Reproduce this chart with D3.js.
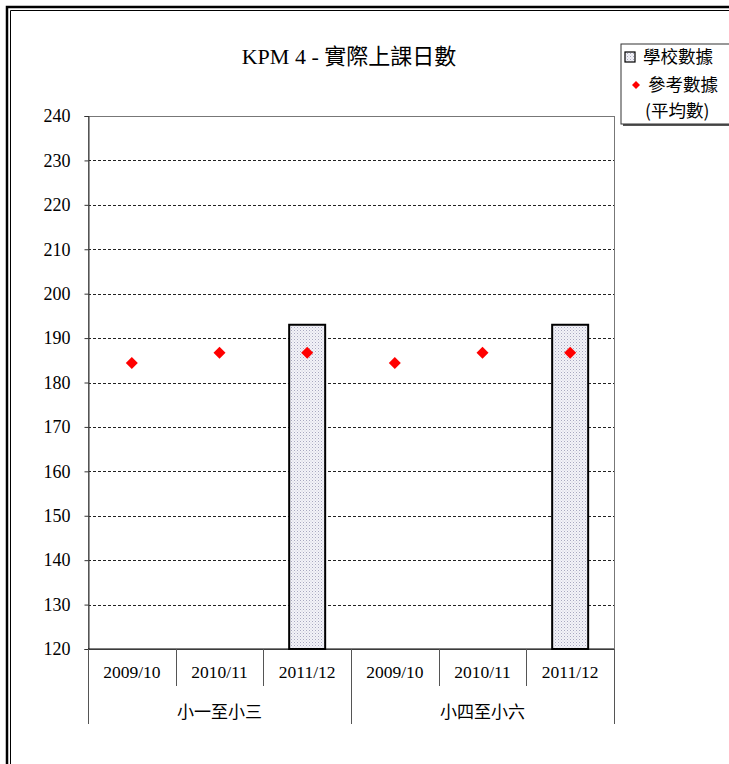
<!DOCTYPE html>
<html>
<head>
<meta charset="utf-8">
<script src="https://cdn.jsdelivr.net/npm/d3@7"></script>
<style>
  body { margin: 0; background: #fff; }
  text { font-family: "Liberation Serif", "Noto Sans CJK TC", serif; fill: #000; }
</style>
</head>
<body>
<div id="chart"></div>
<script>
// data
var years = ['2009/10', '2010/11', '2011/12'];
var groups = ['小一至小三', '小四至小六'];
var schoolData = [0, 0, 193, 0, 0, 193];
var refData = [184.4, 186.7, 186.7, 184.4, 186.7, 186.7];
var yTicks = [120, 130, 140, 150, 160, 170, 180, 190, 200, 210, 220, 230, 240];

var width = 729, height = 764;
var plotL = 88, plotR = 614, plotT = 116, plotB = 649;

var cats = [];
groups.forEach(function (g) {
    years.forEach(function (yr) { cats.push(g + '|' + yr); });
});

var svg = d3.select('#chart')
    .append('svg')
    .attr('width', width)
    .attr('height', height);

// pattern for the school bars
var pat = svg.append('defs').append('pattern')
    .attr('id', 'dots')
    .attr('width', 3).attr('height', 3)
    .attr('patternUnits', 'userSpaceOnUse');
pat.append('rect').attr('width', 3).attr('height', 3).attr('fill', '#f3f3f8');
pat.append('rect').attr('x', 0).attr('y', 0).attr('width', 1).attr('height', 1).attr('fill', '#a8a8c0');
pat.append('rect').attr('x', 1.5).attr('y', 1.5).attr('width', 1).attr('height', 1).attr('fill', '#c8c8d8');

// outer frame (double line, top + left)
svg.append('path').attr('d', 'M7,' + height + 'V7H' + width)
    .attr('fill', 'none').attr('stroke', '#000').attr('stroke-width', 2.5);
svg.append('path').attr('d', 'M10.5,' + height + 'V10.5H' + width)
    .attr('fill', 'none').attr('stroke', '#000').attr('stroke-width', 1);

var x = d3.scaleBand().domain(cats).range([plotL, plotR]).paddingInner(0).paddingOuter(0);
var y = d3.scaleLinear().domain([120, 240]).range([plotB, plotT]).clamp(true);

// title
svg.append('text')
    .attr('x', 349).attr('y', 64)
    .attr('text-anchor', 'middle')
    .style('font-size', '22px')
    .text('KPM 4 - 實際上課日數');

// gridlines
svg.append('g')
    .selectAll('line')
    .data(yTicks.slice(1, -1))
    .join('line')
    .attr('x1', plotL).attr('x2', plotR)
    .attr('y1', function (d) { return Math.round(y(d)) + 0.5; })
    .attr('y2', function (d) { return Math.round(y(d)) + 0.5; })
    .attr('stroke', '#222')
    .attr('stroke-width', 1)
    .attr('stroke-dasharray', '3,2');

// plot border
svg.append('rect')
    .attr('x', plotL + 0.5).attr('y', plotT + 0.5)
    .attr('width', plotR - plotL).attr('height', plotB - plotT)
    .attr('fill', 'none').attr('stroke', '#777').attr('stroke-width', 1);

// y axis
var yAxis = svg.append('g')
    .attr('transform', 'translate(' + (plotL + 0.5) + ',0)')
    .call(d3.axisLeft(y).tickValues(yTicks).tickSize(4).tickPadding(14));
yAxis.select('.domain').attr('stroke', '#333');
yAxis.selectAll('.tick line').attr('stroke', '#333');
yAxis.selectAll('.tick text')
    .style('font-size', '18px')
    .style('font-family', '"Liberation Serif", serif')
    .attr('fill', '#000');

// x axis baseline
svg.append('line')
    .attr('x1', plotL).attr('x2', plotR)
    .attr('y1', plotB).attr('y2', plotB)
    .attr('stroke', '#000').attr('stroke-width', 1.2);

// school bars
var barW = 36;
svg.append('g')
    .selectAll('rect')
    .data(schoolData)
    .join('rect')
    .attr('x', function (d, i) { return x(cats[i]) + x.bandwidth() / 2 - barW / 2; })
    .attr('y', function (d) { return y(d); })
    .attr('width', barW)
    .attr('height', function (d) { return y(120) - y(d); })
    .attr('fill', 'url(#dots)')
    .attr('stroke', '#000')
    .attr('stroke-width', 2);

// reference diamonds
svg.append('g')
    .selectAll('path')
    .data(refData)
    .join('path')
    .attr('d', d3.symbol().type(d3.symbolSquare).size(72))
    .attr('transform', function (d, i) {
        return 'translate(' + (x(cats[i]) + x.bandwidth() / 2) + ',' + y(d) + ')rotate(45)';
    })
    .attr('fill', '#ff0000');

// category separators
var seps = svg.append('g');
cats.forEach(function (c, i) {
    var xs = Math.round(x(c)) + 0.5;
    var isLong = (i % years.length === 0);
    seps.append('line')
        .attr('x1', xs).attr('x2', xs)
        .attr('y1', plotB).attr('y2', isLong ? 724 : 686)
        .attr('stroke', '#555').attr('stroke-width', 1);
});
seps.append('line')
    .attr('x1', plotR + 0.5).attr('x2', plotR + 0.5)
    .attr('y1', plotB).attr('y2', 724)
    .attr('stroke', '#555').attr('stroke-width', 1);

// year labels
svg.append('g')
    .selectAll('text')
    .data(cats)
    .join('text')
    .attr('x', function (d) { return x(d) + x.bandwidth() / 2; })
    .attr('y', 678)
    .attr('text-anchor', 'middle')
    .style('font-size', '17.5px')
    .text(function (d) { return d.split('|')[1]; });

// group labels
var groupW = x.bandwidth() * years.length;
svg.append('g')
    .selectAll('text')
    .data(groups)
    .join('text')
    .attr('x', function (d, i) { return plotL + groupW * i + groupW / 2; })
    .attr('y', 718)
    .attr('text-anchor', 'middle')
    .style('font-size', '17px')
    .text(function (d) { return d; });

// legend
var lg = svg.append('g').attr('transform', 'translate(621,44)');
lg.append('rect')
    .attr('x', 2).attr('y', 2).attr('width', 120).attr('height', 80)
    .attr('fill', '#555');
lg.append('rect')
    .attr('x', 0).attr('y', 0).attr('width', 120).attr('height', 80)
    .attr('fill', '#fff').attr('stroke', '#333').attr('stroke-width', 1);
lg.append('rect')
    .attr('x', 4).attr('y', 8).attr('width', 10).attr('height', 10)
    .attr('fill', 'url(#dots)').attr('stroke', '#000').attr('stroke-width', 1.2);
var legendFont = '"Noto Sans CJK TC", sans-serif';
lg.append('text').attr('x', 22).attr('y', 19)
    .style('font-size', '17.5px')
    .style('font-family', legendFont)
    .text('學校數據');
lg.append('path')
    .attr('d', d3.symbol().type(d3.symbolSquare).size(32))
    .attr('transform', 'translate(15,41)rotate(45)')
    .attr('fill', '#ff0000');
lg.append('text').attr('x', 27).attr('y', 47)
    .style('font-size', '17.5px')
    .style('font-family', legendFont)
    .text('參考數據');
lg.append('text').attr('x', 24).attr('y', 73)
    .style('font-size', '17.5px')
    .style('font-family', legendFont)
    .text('(平均數)');
</script>
</body>
</html>
